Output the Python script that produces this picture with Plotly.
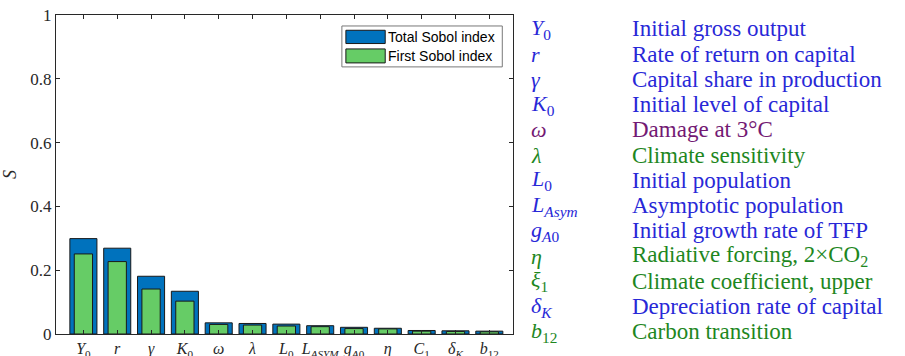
import plotly.graph_objects as go

# ---- data ----
categories = ["Y0", "r", "gamma", "K0", "omega", "lambda", "L0", "LASYM", "gA0", "eta", "C1", "deltaK", "b12"]
tick_labels = ["<i>Y</i><sub>0</sub>", "<i>r</i>", "<i>γ</i>", "<i>K</i><sub>0</sub>", "<i>ω</i>", "<i>λ</i>",
               "<i>L</i><sub>0</sub>", "<i>L</i><sub><i>ASYM</i></sub>", "<i>g</i><sub><i>A</i>0</sub>",
               "<i>η</i>", "<i>C</i><sub>1</sub>", "<i>δ</i><sub><i>K</i></sub>", "<i>b</i><sub>12</sub>"]
total_sobol = [0.299, 0.269, 0.181, 0.134, 0.035, 0.033, 0.031, 0.026, 0.021, 0.018, 0.011, 0.010, 0.009]
first_sobol = [0.251, 0.227, 0.141, 0.103, 0.030, 0.028, 0.025, 0.023, 0.017, 0.016, 0.009, 0.008, 0.007]
y_ticks = [0, 0.2, 0.4, 0.6, 0.8, 1]
y_tick_labels = ["0", "0.2", "0.4", "0.6", "0.8", "1"]

table_symbols = ["<i>Y</i><sub>0</sub>", "<i>r</i>", "<i>γ</i>", "<i>K</i><sub>0</sub>", "<i>ω</i>", "<i>λ</i>",
                 "<i>L</i><sub>0</sub>", "<i>L</i><sub><i>Asym</i></sub>", "<i>g</i><sub><i>A</i>0</sub>",
                 "<i>η</i>", "<i>ξ</i><sub>1</sub>", "<i>δ</i><sub><i>K</i></sub>", "<i>b</i><sub>12</sub>"]
table_desc = ["Initial gross output", "Rate of return on capital", "Capital share in production",
              "Initial level of capital", "Damage at 3°C", "Climate sensitivity", "Initial population",
              "Asymptotic population", "Initial growth rate of TFP", "Radiative forcing, 2×CO<sub>2</sub>",
              "Climate coefficient, upper", "Depreciation rate of capital", "Carbon transition"]
table_group = ["econ", "econ", "econ", "econ", "damage", "climate", "econ", "econ", "econ",
               "climate", "climate", "econ", "climate"]
group_colors = {"econ": "rgb(40,40,215)", "damage": "rgb(115,25,115)", "climate": "rgb(30,135,30)"}

# ---- layout geometry (pixels) ----
W, H = 905, 356
L_PX, R_PX, T_PX, B_PX = 56, 512.7, 14.7, 334.3
pw, ph = R_PX - L_PX, B_PX - T_PX

def px(x):
    return (x - L_PX) / pw

def py(y):
    return (B_PX - y) / ph

x_idx = list(range(len(categories)))

fig = go.Figure()
fig.add_trace(go.Bar(x=x_idx, y=total_sobol, width=0.8, name="Total Sobol index",
                     marker=dict(color="#0072BD", line=dict(color="rgb(25,25,25)", width=1)),
                     showlegend=False))
fig.add_trace(go.Bar(x=x_idx, y=first_sobol, width=0.54, name="First Sobol index",
                     marker=dict(color="#66CC66", line=dict(color="rgb(25,25,25)", width=1)),
                     showlegend=False))

serif = "Times New Roman, Liberation Serif, serif"
fig.update_layout(
    width=W, height=H, barmode="overlay",
    margin=dict(l=L_PX, r=W - R_PX, t=T_PX, b=H - B_PX, autoexpand=False),
    paper_bgcolor="white", plot_bgcolor="white",
    xaxis=dict(range=[-0.81, 12.70], tickvals=x_idx, ticktext=tick_labels, ticks="inside", ticklen=4,
               tickcolor="rgb(40,40,40)", showline=True, linecolor="rgb(40,40,40)", linewidth=1,
               mirror="ticks", showgrid=False, zeroline=False,
               tickfont=dict(family=serif, size=16, color="rgb(40,40,40)")),
    yaxis=dict(range=[0, 1], tickvals=y_ticks, ticktext=y_tick_labels, ticks="inside", ticklen=4,
               tickcolor="rgb(40,40,40)", showline=True, linecolor="rgb(40,40,40)", linewidth=1,
               mirror="ticks", showgrid=False, zeroline=False,
               tickfont=dict(family=serif, size=17, color="rgb(40,40,40)"),
               title=dict(text="<i>S</i>", font=dict(family=serif, size=18, color="rgb(40,40,40)"), standoff=9)),
)

# ---- custom legend ----
shapes = [dict(type="rect", xref="paper", yref="paper", x0=px(341.7), x1=px(502), y0=py(66.7), y1=py(25.7),
               line=dict(color="rgb(120,120,120)", width=1), fillcolor="white", layer="above")]
legend_items = [("Total Sobol index", "#0072BD", 30.0, 43.3), ("First Sobol index", "#66CC66", 48.7, 62.7)]
annotations = []
for name, col, y0, y1 in legend_items:
    shapes.append(dict(type="rect", xref="paper", yref="paper", x0=px(345.7), x1=px(385), y0=py(y1), y1=py(y0),
                       line=dict(color="rgb(25,25,25)", width=1), fillcolor=col, layer="above"))
    annotations.append(dict(xref="paper", yref="paper", x=px(386), y=py((y0 + y1) / 2), text=name,
                            showarrow=False, xanchor="left", yanchor="middle",
                            font=dict(family="Liberation Sans, Arial, sans-serif", size=14, color="black")))

# ---- side table ----
row_y0, row_step = 28.5, 25.3
for i, (sym, desc, grp) in enumerate(zip(table_symbols, table_desc, table_group)):
    yc = row_y0 + i * row_step
    col = group_colors[grp]
    annotations.append(dict(xref="paper", yref="paper", x=px(529), y=py(yc), text=sym, showarrow=False,
                            xanchor="left", yanchor="middle", font=dict(family=serif, size=22, color=col)))
    annotations.append(dict(xref="paper", yref="paper", x=px(630), y=py(yc), text=desc, showarrow=False,
                            xanchor="left", yanchor="middle", font=dict(family=serif, size=23, color=col)))

fig.update_layout(shapes=shapes, annotations=annotations)
fig.write_html("out.html", config={"displayModeBar": False},
               post_script="document.body.style.margin='0px';document.body.style.padding='0px';")
